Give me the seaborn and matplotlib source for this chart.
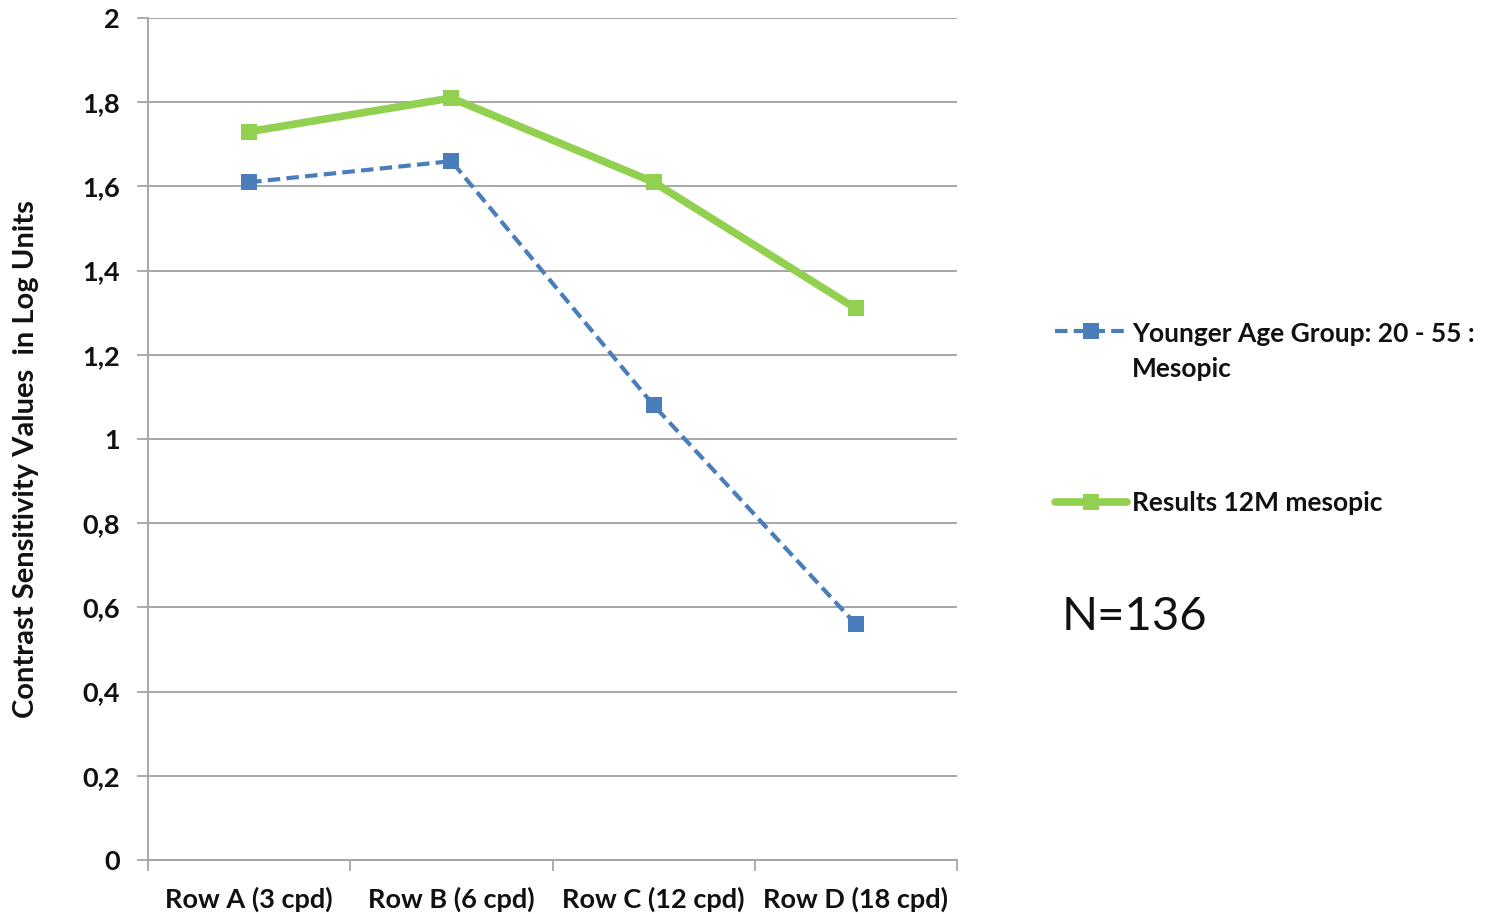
import matplotlib
matplotlib.use("Agg")
import matplotlib.pyplot as plt
import seaborn as sns
import pandas as pd
from matplotlib.lines import Line2D

categories = ["Row A (3 cpd)", "Row B (6 cpd)", "Row C (12 cpd)", "Row D (18 cpd)"]
younger_mesopic = [1.61, 1.66, 1.08, 0.56]
results_12m_mesopic = [1.73, 1.81, 1.61, 1.31]
series_names = ["Younger Age Group: 20 - 55 :\nMesopic", "Results 12M mesopic"]
y_ticks = [0, 0.2, 0.4, 0.6, 0.8, 1.0, 1.2, 1.4, 1.6, 1.8, 2.0]
y_tick_labels = ["0", "0,2", "0,4", "0,6", "0,8", "1", "1,2", "1,4", "1,6", "1,8", "2"]

sns.set_theme(style="white")
plt.rcParams["font.family"] = ["Lato", "DejaVu Sans"]

df = pd.DataFrame({
    "pos": list(range(len(categories))) * 2,
    "value": younger_mesopic + results_12m_mesopic,
    "series": [series_names[0]] * 4 + [series_names[1]] * 4,
})

BLUE = "#4a7ebb"
GREEN = "#92d050"
GRID = "#a6a6a6"
INK = "#111111"
FS = 19.5

fig = plt.figure(figsize=(14.89, 9.14), dpi=100)
ax = fig.add_axes([148 / 1489, 1 - 860 / 914, (957 - 148) / 1489, (860 - 18) / 914])

sns.lineplot(data=df, x="pos", y="value", hue="series", style="series",
             palette=[BLUE, GREEN], dashes=[(3, 1.5), ""], markers=["s", "s"],
             markersize=11, markeredgewidth=0, legend=False, ax=ax, sort=False)
lines = ax.get_lines()
lines[0].set_linewidth(3)
lines[1].set_linewidth(5.5)
for ln in lines:
    ln.set_zorder(3)

ax.set_xlim(-0.5, 3.5)
ax.set_ylim(0, 2)
ax.set_yticks(y_ticks)
ax.set_yticklabels(y_tick_labels, fontsize=FS, fontweight="bold", color=INK)
ax.set_xticks(range(len(categories)))
ax.set_xticklabels(categories, fontsize=FS, fontweight="bold", color=INK)
ax.set_xticks([-0.5, 0.5, 1.5, 2.5, 3.5], minor=True)
ax.tick_params(axis="x", which="major", length=0, pad=19)
ax.tick_params(axis="x", which="minor", length=8, width=1.3, color=GRID, direction="out", bottom=True)
ax.tick_params(axis="y", which="major", length=8, width=1.3, color=GRID, direction="out", left=True, pad=12)

ax.yaxis.grid(True, color=GRID, linewidth=1.4)
ax.set_axisbelow(True)
for side in ["top", "right"]:
    ax.spines[side].set_visible(False)
for side in ["left", "bottom"]:
    ax.spines[side].set_color(GRID)
    ax.spines[side].set_linewidth(1.4)

ax.set_xlabel("")
ax.set_ylabel("Contrast Sensitivity Values  in Log Units", fontsize=21,
              fontweight="bold", color=INK)
ax.yaxis.set_label_coords((39 - 148) / 809, (860 - 459) / 842)

handles = [
    Line2D([], [], color=BLUE, linewidth=3, dashes=(3, 1.5), marker="s", markersize=11, markeredgewidth=0),
    Line2D([], [], color=GREEN, linewidth=5.5, marker="s", markersize=11, markeredgewidth=0),
]
legend_kw = dict(frameon=False, prop={"size": 19, "weight": "bold"},
                 handlelength=2.75, handletextpad=0.18, borderpad=0.4)
leg1 = fig.legend([handles[0]], [series_names[0]], loc="upper left",
                  bbox_to_anchor=(1031 / 1489, 1 - 298 / 914), **legend_kw)
leg2 = fig.legend([handles[1]], [series_names[1]], loc="center left",
                  bbox_to_anchor=(1031 / 1489, 1 - 503 / 914), **legend_kw)
# keep the key line level with the first line of a two-line label
for column in leg1._legend_handle_box.get_children():
    for row in column.get_children():
        row.align = "top"
for leg in (leg1, leg2):
    for t in leg.get_texts():
        t.set_color(INK)
        t.set_linespacing(1.55)

fig.text(1062 / 1489, 1 - 617 / 914, "N=136", fontsize=34, fontweight="normal",
         va="center", ha="left", color=INK)

fig.savefig("out.png", dpi=100)
